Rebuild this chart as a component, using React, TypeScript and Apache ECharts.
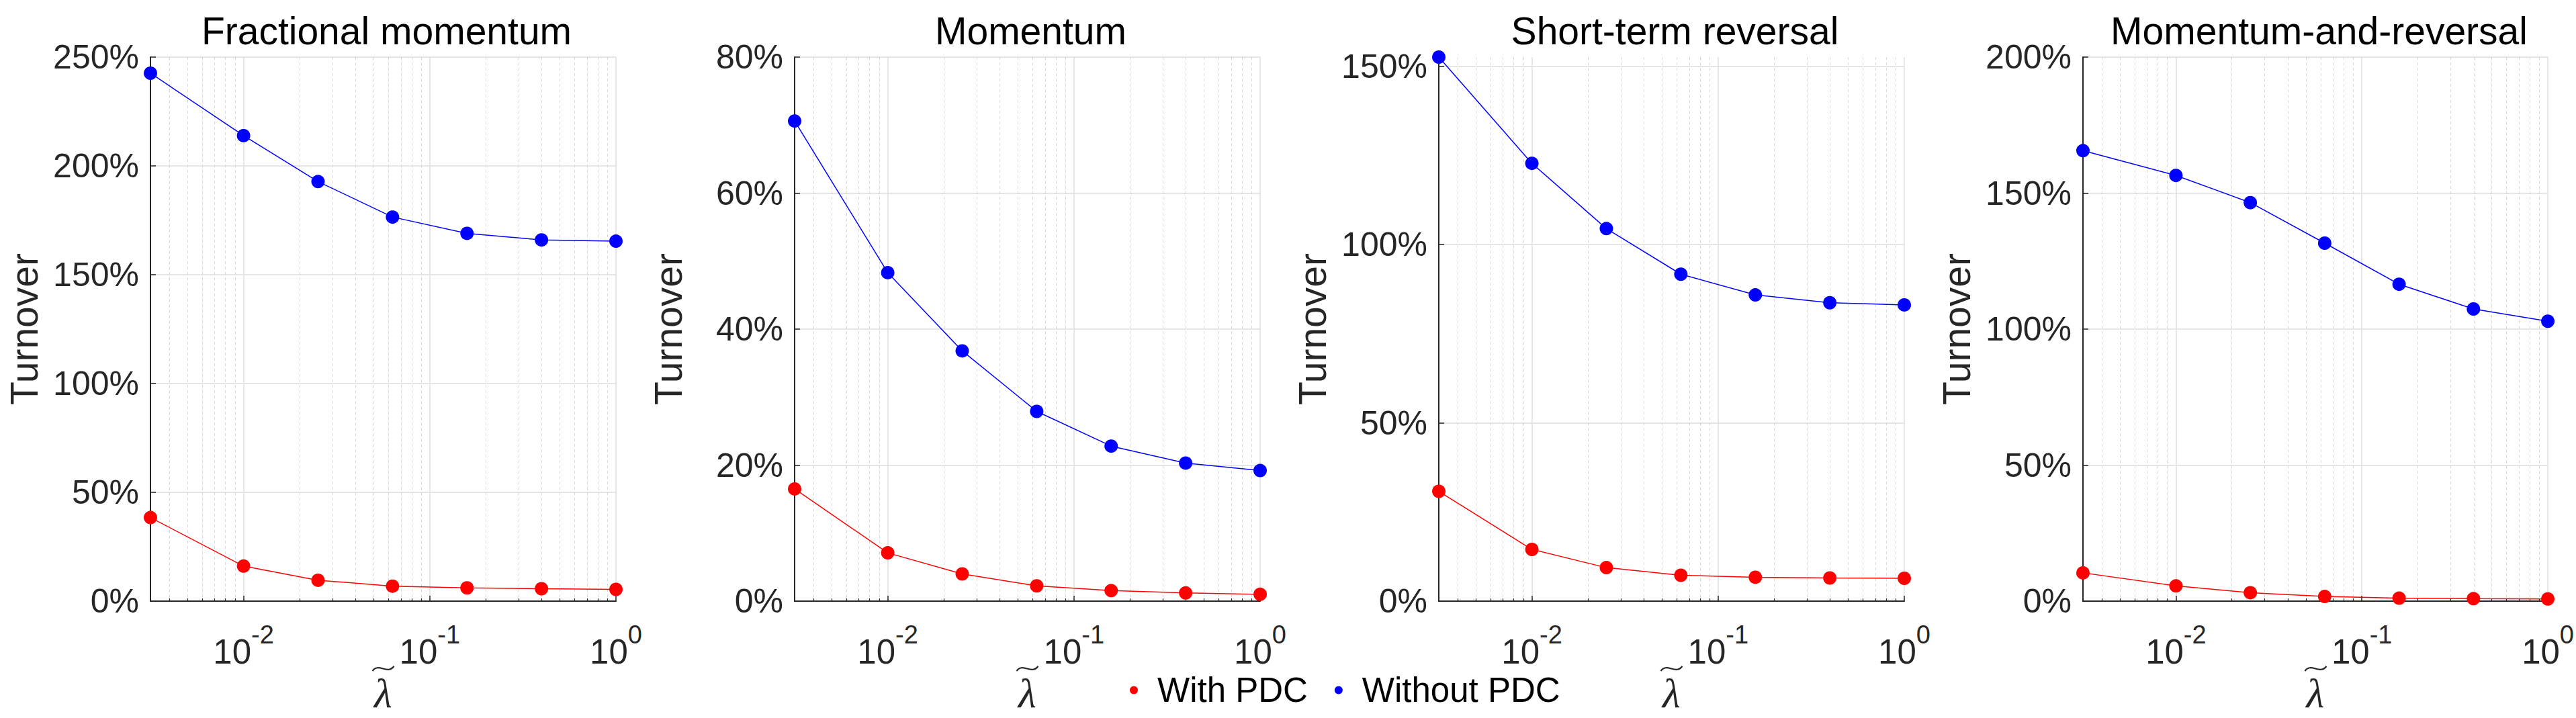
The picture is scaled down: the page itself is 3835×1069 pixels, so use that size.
import React, { useEffect, useRef } from "react";
import * as echarts from "echarts";

const titles = ["Fractional momentum", "Momentum", "Short-term reversal", "Momentum-and-reversal"];
const lambdas = [0.0031623, 0.01, 0.025119, 0.063096, 0.15849, 0.39811, 1];
const withPDC1 = [38.4, 16.1, 9.6, 6.9, 6.1, 5.7, 5.4];
const withoutPDC1 = [242.6, 213.9, 192.8, 176.5, 169.0, 166.0, 165.4];
const withPDC2 = [16.5, 7.1, 4.0, 2.25, 1.55, 1.2, 1.0];
const withoutPDC2 = [70.6, 48.3, 36.8, 27.9, 22.8, 20.3, 19.2];
const withPDC3 = [30.8, 14.5, 9.4, 7.25, 6.7, 6.5, 6.4];
const withoutPDC3 = [152.6, 122.8, 104.5, 91.7, 85.9, 83.7, 83.1];
const withPDC4 = [10.4, 5.6, 3.1, 1.7, 1.1, 0.9, 0.8];
const withoutPDC4 = [165.6, 156.5, 146.5, 131.6, 116.5, 107.4, 102.9];
const yMax = [250, 80, 152.6, 200];
const yStep = [50, 20, 50, 50];
const yTicks = [
  [0, 50, 100, 150, 200, 250],
  [0, 20, 40, 60, 80],
  [0, 50, 100, 150],
  [0, 50, 100, 150, 200],
];
const xMajorTicks = [0.01, 0.1, 1];
const xMinorTicks = [
  0.004, 0.005, 0.006, 0.007, 0.008, 0.009,
  0.02, 0.03, 0.04, 0.05, 0.06, 0.07, 0.08, 0.09,
  0.2, 0.3, 0.4, 0.5, 0.6, 0.7, 0.8, 0.9,
];
const xMin = 0.0031623;
const xMax = 1;
const legendNames = ["With PDC", "Without PDC"];
const xName = "\u03BB";

const withSets = [withPDC1, withPDC2, withPDC3, withPDC4];
const withoutSets = [withoutPDC1, withoutPDC2, withoutPDC3, withoutPDC4];

const FONT = "'Liberation Sans', Arial, Helvetica, sans-serif";
const SERIF = "'Liberation Serif', 'DejaVu Serif', serif";
const AXIS = "#262626";

export default function App() {
  const ref = useRef<HTMLDivElement>(null);
  useEffect(() => {
    document.body.style.margin = "0";
    if (!ref.current) return;
    const chart = echarts.init(ref.current, undefined, { renderer: "svg" });
    const gridLeft0 = 224;
    const gridStep = 959;
    const gridW = 693;
    const gridTop = 85;
    const gridH = 810;

    const grid: any[] = [];
    const xAxis: any[] = [];
    const yAxis: any[] = [];
    const series: any[] = [];
    const title: any[] = [];
    const graphic: any[] = [];

    for (let i = 0; i < 4; i++) {
      const left = gridLeft0 + gridStep * i;
      const cx = left + gridW / 2;
      grid.push({ left, top: gridTop, width: gridW, height: gridH, containLabel: false });
      title.push({
        text: titles[i],
        left: cx,
        top: 12,
        textAlign: "center",
        textStyle: { fontSize: 57, fontWeight: "normal", color: "#000", fontFamily: FONT },
      });
      // tilde accent over the lambda axis name
      graphic.push({
        type: "bezierCurve",
        silent: true,
        shape: {
          x1: cx - 16, y1: 999,
          cpx1: cx - 7, cpy1: 986,
          cpx2: cx + 6, cpy2: 1005,
          x2: cx + 16, y2: 992,
        },
        style: { stroke: AXIS, lineWidth: 2.2, fill: null },
      });
      xAxis.push({
        type: "log",
        logBase: 10,
        gridIndex: i,
        position: "bottom",
        min: xMin,
        max: xMax,
        axisLine: { show: true, lineStyle: { color: AXIS, width: 2 } },
        axisTick: { show: true, inside: true, length: 8, customValues: xMajorTicks, lineStyle: { color: AXIS, width: 1.5 } },
        axisLabel: {
          show: true,
          customValues: xMajorTicks,
          margin: 31,
          formatter: (v: number) => `{b|10}{s|${Math.round(Math.log10(v))}}`,
          rich: {
            b: { fontSize: 51, fontFamily: FONT, color: AXIS, lineHeight: 70, verticalAlign: "bottom" },
            s: { fontSize: 38, fontFamily: FONT, color: AXIS, lineHeight: 30, verticalAlign: "top" },
          },
        },
        splitLine: { show: true, lineStyle: { color: "#dedede", width: 1.5 } },
        name: xName,
        nameLocation: "middle",
        nameGap: 104,
        nameTextStyle: { fontSize: 62, fontFamily: SERIF, fontStyle: "italic", color: AXIS },
      });
      xAxis.push({
        type: "log",
        logBase: 10,
        gridIndex: i,
        position: "bottom",
        min: xMin,
        max: xMax,
        axisLine: { show: false },
        axisTick: { show: true, inside: true, length: 4, customValues: xMinorTicks, lineStyle: { color: AXIS, width: 1.2 } },
        axisLabel: { show: false },
        splitLine: { show: true, lineStyle: { color: "#d6d6d6", width: 1, type: [4, 4] } },
      });
      yAxis.push({
        type: "value",
        gridIndex: i,
        min: 0,
        max: yMax[i],
        interval: yStep[i],
        axisLine: { show: true, lineStyle: { color: AXIS, width: 2 } },
        axisTick: { show: true, inside: true, length: 8, customValues: yTicks[i], lineStyle: { color: AXIS, width: 1.5 } },
        axisLabel: {
          show: true,
          customValues: yTicks[i],
          margin: 17,
          fontSize: 50,
          fontFamily: FONT,
          color: AXIS,
          formatter: (v: number) => `${v}%`,
        },
        splitLine: { show: true, lineStyle: { color: "#dedede", width: 1.5 } },
        name: "Turnover",
        nameLocation: "middle",
        nameGap: 160,
        nameTextStyle: { fontSize: 57, fontFamily: FONT, color: AXIS },
      });
      series.push({
        name: legendNames[0],
        type: "line",
        xAxisIndex: i * 2,
        yAxisIndex: i,
        data: lambdas.map((x, j) => [x, withSets[i][j]]),
        symbol: "circle",
        symbolSize: 20,
        color: "#ff0000",
        lineStyle: { color: "#ff0000", width: 1.5 },
        itemStyle: { color: "#ff0000" },
        z: 3,
      });
      series.push({
        name: legendNames[1],
        type: "line",
        xAxisIndex: i * 2,
        yAxisIndex: i,
        data: lambdas.map((x, j) => [x, withoutSets[i][j]]),
        symbol: "circle",
        symbolSize: 20,
        color: "#0000ff",
        lineStyle: { color: "#0000ff", width: 1.5 },
        itemStyle: { color: "#0000ff" },
        z: 3,
      });
    }

    chart.setOption({
      animation: false,
      backgroundColor: "#ffffff",
      title,
      grid,
      xAxis,
      yAxis,
      series,
      graphic,
      legend: {
        data: legendNames,
        left: 1677,
        top: 997,
        icon: "circle",
        itemWidth: 12,
        itemHeight: 12,
        itemGap: 40,
        textStyle: { fontSize: 51, fontFamily: FONT, color: "#000", padding: [0, 0, 0, 24] },
      },
    });
    return () => chart.dispose();
  }, []);
  return <div ref={ref} style={{ width: 3835, height: 1069 }} />;
}
